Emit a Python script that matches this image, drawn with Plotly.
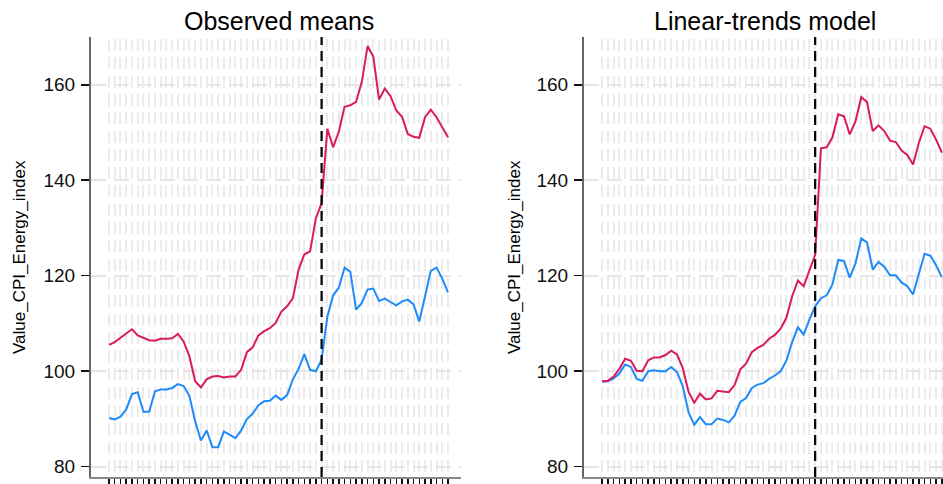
import plotly.graph_objects as go

# ---------------- data ----------------
periods = list(range(60))
break_period = 37

obs_red = [105.5, 106.1, 107.0, 108.0, 108.8, 107.5, 107.0, 106.5, 106.4, 106.8,
           106.8, 106.9, 107.8, 106.2, 103.1, 97.9, 96.6, 98.3, 98.9, 99.0,
           98.7, 98.9, 98.9, 100.3, 104.0, 105.0, 107.5, 108.4, 109.0, 110.1,
           112.5, 113.6, 115.3, 121.3, 124.5, 125.1, 132.0, 135.2, 150.8, 146.9,
           150.2, 155.4, 155.7, 156.4, 160.6, 168.1, 165.9, 156.9, 159.2, 157.6,
           154.6, 153.3, 149.7, 149.1, 148.9, 153.2, 154.8, 153.2, 151.1, 149.0]
obs_blue = [90.2, 89.9, 90.5, 92.0, 95.2, 95.6, 91.5, 91.5, 95.8, 96.2,
            96.2, 96.5, 97.3, 96.9, 94.8, 89.5, 85.5, 87.6, 84.1, 84.1,
            87.4, 86.7, 86.0, 87.6, 90.0, 91.1, 92.9, 93.7, 93.8, 94.9,
            94.0, 95.0, 98.3, 100.5, 103.6, 100.3, 100.0, 102.4, 111.4, 115.9,
            117.5, 121.7, 120.8, 112.9, 114.3, 117.1, 117.3, 114.7, 115.2, 114.5,
            113.8, 114.6, 115.0, 114.0, 110.4, 115.7, 121.0, 121.7, 119.4, 116.5]
lin_red = [97.9, 98.0, 98.9, 100.5, 102.6, 102.2, 100.1, 100.0, 102.3, 102.9,
           102.9, 103.4, 104.3, 103.5, 100.7, 95.7, 93.4, 95.3, 94.1, 94.3,
           95.9, 95.8, 95.6, 97.1, 100.4, 101.6, 104.0, 104.9, 105.5, 106.8,
           107.6, 108.9, 111.2, 115.7, 119.0, 117.8, 121.2, 124.4, 146.7, 146.9,
           149.0, 153.8, 153.4, 149.6, 152.3, 157.4, 156.4, 150.3, 151.5, 150.3,
           148.3, 148.0, 146.2, 145.3, 143.3, 147.8, 151.3, 150.8, 148.5, 145.8]
lin_blue = [97.8, 97.9, 98.5, 99.5, 101.4, 100.9, 98.4, 98.0, 100.0, 100.2,
            100.0, 100.0, 100.9, 99.8, 96.9, 91.4, 88.8, 90.4, 88.9, 88.9,
            90.1, 89.8, 89.3, 90.7, 93.6, 94.4, 96.5, 97.2, 97.5, 98.4,
            99.1, 100.0, 102.2, 106.1, 109.2, 107.7, 110.8, 113.6, 115.3, 115.9,
            118.2, 123.3, 123.1, 119.6, 122.6, 127.8, 127.0, 121.3, 122.9, 121.9,
            120.1, 120.1, 118.6, 117.8, 116.1, 120.6, 124.6, 124.2, 122.2, 119.7]

y_ticks = [80, 100, 120, 140, 160]
panel_titles = ["Observed means", "Linear-trends model"]
y_title = "Value_CPI_Energy_index"

RED = "#d91a5c"
BLUE = "#1f8bfa"
W, H = 943, 484
FONT = "Liberation Sans, Arial"


def fx(px):
    return px / W


def fy(py):
    return 1 - py / H


fig = go.Figure()
for xa, ya, red, blue in [("x", "y", obs_red, obs_blue), ("x2", "y2", lin_red, lin_blue)]:
    fig.add_trace(go.Scatter(x=periods, y=blue, mode="lines", xaxis=xa, yaxis=ya,
                             line=dict(color=BLUE, width=2), showlegend=False,
                             hoverinfo="skip"))
    fig.add_trace(go.Scatter(x=periods, y=red, mode="lines", xaxis=xa, yaxis=ya,
                             line=dict(color=RED, width=2), showlegend=False,
                             hoverinfo="skip"))

ydom = [fy(477), fy(37)]
xcommon = dict(tickmode="array", tickvals=periods, showticklabels=False,
               ticks="outside", ticklen=8, tickwidth=1.5, tickcolor="#111",
               showline=True, linecolor="#888", linewidth=2,
               showgrid=True, gridcolor="#ececec", gridwidth=2,
               griddash="0px,2px,12px,4.3px", zeroline=False, fixedrange=True)
ycommon = dict(tickmode="array", tickvals=y_ticks, range=[77.85, 170],
               ticks="outside", ticklen=8, tickwidth=1.5, tickcolor="#111",
               showline=True, linecolor="#666", linewidth=2,
               showgrid=True, gridcolor="#e6e6e6", gridwidth=2,
               griddash="15px,8px", zeroline=False, ticklabelstandoff=2,
               fixedrange=True,
               tickfont=dict(family=FONT, size=19, color="#111"))

fig.update_layout(
    width=W, height=H,
    margin=dict(l=0, r=0, t=0, b=0),
    paper_bgcolor="white", plot_bgcolor="white",
    hovermode=False,
    xaxis=dict(domain=[fx(91), fx(461)], range=[-3.13, 61.26], anchor="y", **xcommon),
    xaxis2=dict(domain=[fx(584), 1.0], range=[-3.15, 59.2], anchor="y2", **xcommon),
    yaxis=dict(domain=ydom, anchor="x", **ycommon),
    yaxis2=dict(domain=ydom, anchor="x2", **ycommon),
)

# vertical break lines
for xr, yr in [("x", "y domain"), ("x2", "y2 domain")]:
    fig.add_shape(type="line", xref=xr, yref=yr, x0=break_period, x1=break_period,
                  y0=0, y1=1, line=dict(color="black", width=2.2, dash="10px,6px"))

# titles
for cx, txt in [(279, panel_titles[0]), (765, panel_titles[1])]:
    fig.add_annotation(text=txt, x=fx(cx), y=fy(21), xref="paper", yref="paper",
                       xanchor="center", yanchor="middle", showarrow=False,
                       font=dict(family=FONT, size=25, color="black"))
# y-axis titles
for cx in [19, 514]:
    fig.add_annotation(text=y_title, x=fx(cx), y=fy(257), xref="paper", yref="paper",
                       xanchor="center", yanchor="middle", showarrow=False, textangle=-90,
                       font=dict(family=FONT, size=17, color="black"))

fig.write_html("out.html",
               config={"displayModeBar": False, "staticPlot": True},
               post_script="document.body.style.margin='0px';document.body.style.overflow='hidden';")
